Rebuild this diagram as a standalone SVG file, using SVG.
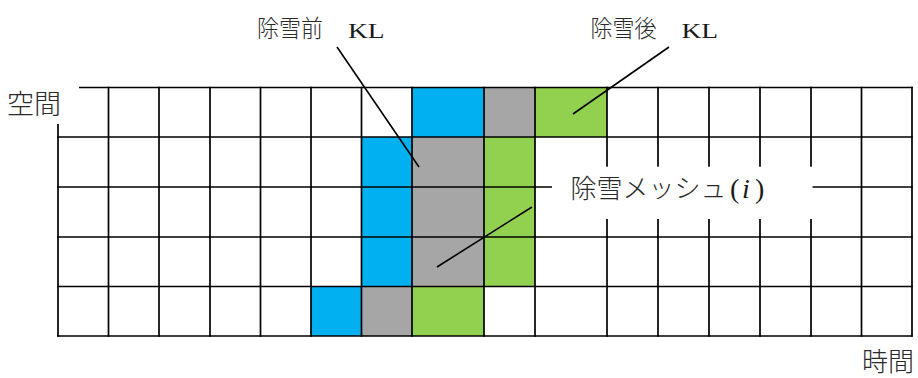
<svg xmlns="http://www.w3.org/2000/svg" width="918" height="378" viewBox="0 0 918 378">
<style>
.grid{stroke:#000;stroke-width:1.7;fill:none;stroke-linecap:square}
.lead{stroke:#000;stroke-width:1.6;fill:none}
.jp{font-family:"Noto Sans CJK JP","Noto Sans",sans-serif;font-weight:300;fill:#2a2a2a}
.ser{font-family:"Liberation Serif",serif;fill:#1a1a1a}
.b{fill:#00B0F0}.g{fill:#A6A6A6}.n{fill:#92D050}
</style>
<rect width="918" height="378" fill="#fff"/>
<g id="cells">
<rect class="b" x="412" y="87.5" width="72" height="49.5"/>
<rect class="g" x="484" y="87.5" width="51" height="49.5"/>
<rect class="n" x="535" y="87.5" width="72" height="49.5"/>
<rect class="b" x="361.5" y="137" width="50.5" height="149.5"/>
<rect class="g" x="412" y="137" width="72" height="149.5"/>
<rect class="n" x="484" y="137" width="51" height="149.5"/>
<rect class="b" x="311" y="286.5" width="50.5" height="49.5"/>
<rect class="g" x="361.5" y="286.5" width="50.5" height="49.5"/>
<rect class="n" x="412" y="286.5" width="72" height="49.5"/>
</g>
<g id="grid" class="grid">
<path d="M58 87.5H912M58 137H912M58 187H912M58 237H912M58 286.5H912M58 336H912"/>
<path d="M58 87.5V336M108.5 87.5V336M159 87.5V336M210 87.5V336M260.5 87.5V336M311 87.5V336M361.5 87.5V336M412 87.5V336M484 87.5V336M535 87.5V336M607 87.5V336M658 87.5V336M709 87.5V336M760 87.5V336M811 87.5V336M861.5 87.5V336M912 87.5V336"/>
</g>
<rect x="0" y="70" width="79" height="54" fill="#fff"/>
<rect x="552" y="166.7" width="260.5" height="52.3" fill="#fff"/>
<g id="connectors">
<line class="lead" x1="337" y1="47" x2="419" y2="167"/>
<line class="lead" x1="669" y1="47" x2="573" y2="114"/>
<line class="lead" x1="532" y1="207" x2="437" y2="267"/>
</g>
<g id="label-space">
<text class="jp" x="7" y="114" font-size="27">空間</text>
</g>
<g id="label-time">
<text class="jp" x="862" y="370.5" font-size="26">時間</text>
</g>
<g id="label-before">
<text class="jp" x="257" y="37" font-size="24" textLength="66" lengthAdjust="spacingAndGlyphs">除雪前</text>
<text class="ser" transform="scale(1.25,1)" x="278.4" y="38.5" font-size="22">KL</text>
</g>
<g id="label-after">
<text class="jp" x="590.5" y="37" font-size="24" textLength="66" lengthAdjust="spacingAndGlyphs">除雪後</text>
<text class="ser" transform="scale(1.25,1)" x="545.2" y="38.5" font-size="22">KL</text>
</g>
<g id="label-mesh">
<text class="jp" x="570.5" y="198" font-size="26">除雪メッシュ</text>
<text class="ser" x="730" y="198" font-size="28">(</text>
<text class="ser" x="742" y="198" font-size="28" font-style="italic">i</text>
<text class="ser" x="755" y="198" font-size="28">)</text>
</g>
</svg>
